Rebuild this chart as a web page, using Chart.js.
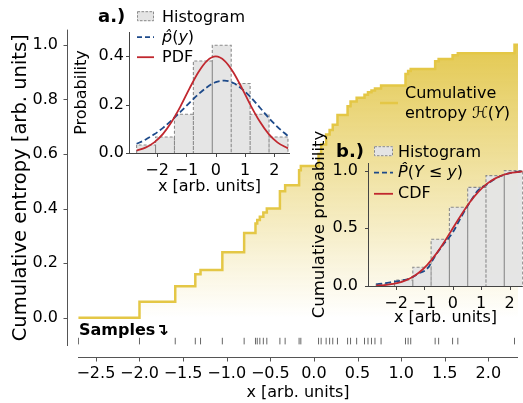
<!DOCTYPE html>
<html><head><meta charset="utf-8">
<script src="https://cdn.jsdelivr.net/npm/chart.js@4.4.1/dist/chart.umd.min.js"></script>
<style>
html,body{margin:0;padding:0;background:#fff;}
#wrap{position:relative;width:523px;height:403px;overflow:hidden;background:#fff;}
canvas{position:absolute;}
#main{left:0;top:0;width:523px;height:403px;}
#insA{left:60px;top:0;width:240px;height:200px;}
#insB{left:290px;top:130px;width:233px;height:200px;}
</style></head><body>
<div id="wrap">
<canvas id="main" width="523" height="403"></canvas>
<canvas id="insA" width="240" height="200"></canvas>
<canvas id="insB" width="233" height="200"></canvas>
</div>
<script>
// ---------------- data ----------------
const samples = [-2.70, -2.00, -1.59, -1.36, -1.30, -1.05, -0.80, -0.67, -0.65, -0.62, -0.58, -0.54,
  -0.39, -0.33, -0.17, -0.15, 0.053, 0.083, 0.14, 0.18, 0.216, 0.27, 0.386, 0.42, 0.49, 0.58,
  0.62, 0.66, 0.70, 0.77, 1.05, 1.08, 1.11, 1.39, 1.43, 1.59, 1.65, 2.30];
const entropy = [0, 0.0585, 0.115, 0.159, 0.175, 0.24, 0.31, 0.345, 0.358, 0.37, 0.385, 0.40,
  0.463, 0.485, 0.54, 0.556, 0.60, 0.635, 0.671, 0.688, 0.707, 0.743, 0.775, 0.792, 0.806, 0.817,
  0.826, 0.833, 0.84, 0.851, 0.893, 0.904, 0.912, 0.94, 0.948, 0.962, 0.969, 1.0];

const histEdges = [-2.70, -2.055, -1.41, -0.765, -0.12, 0.525, 1.17, 1.815, 2.46];
const histDensity = [0.033, 0.066, 0.16, 0.38, 0.445, 0.287, 0.16, 0.066];
const histCumulative = [0.017, 0.052, 0.162, 0.405, 0.682, 0.855, 0.957, 1.0];

const curveX = [-2.7, -2.4, -2.1, -1.8, -1.5, -1.2, -0.9, -0.6, -0.3, 0, 0.3, 0.6, 0.9, 1.2, 1.5, 1.8, 2.1, 2.46];
const pdfTrue = [0.010, 0.022, 0.044, 0.079, 0.130, 0.194, 0.266, 0.333, 0.381, 0.399, 0.381, 0.333, 0.266, 0.194, 0.130, 0.079, 0.044, 0.019];
const pdfEst  = [0.038, 0.055, 0.077, 0.104, 0.136, 0.171, 0.207, 0.242, 0.272, 0.293, 0.299, 0.289, 0.264, 0.229, 0.188, 0.146, 0.108, 0.070];
const cdfTrue = [0.003, 0.008, 0.018, 0.036, 0.067, 0.115, 0.184, 0.274, 0.382, 0.500, 0.618, 0.726, 0.816, 0.885, 0.933, 0.964, 0.982, 0.993];
const cdfEst  = [0.015, 0.024, 0.036, 0.048, 0.068, 0.110, 0.150, 0.270, 0.370, 0.465, 0.600, 0.725, 0.830, 0.880, 0.930, 0.963, 0.983, 0.993];

const X_MIN = -2.705, X_MAX = 2.34, Y_MIN = -0.104, Y_MAX = 1.056;
const RUG_Y = -0.086;

// ---------------- styles ----------------
const GOLD = 'rgb(228,199,70)';
const RED = '#c1282f';
const BLUE = '#1d4a8a';
const SPINE = '#555';
Chart.defaults.font.family = "'DejaVu Sans', sans-serif";
Chart.defaults.font.size = 16;
Chart.defaults.color = '#000';
const MINUS = '\u2212';
function fmt(v, d) { if (Math.abs(v) < 1e-9) v = 0; const s = Math.abs(v).toFixed(d); return v < 0 ? MINUS + s : s; }
function pts(xs, ys) { return xs.map((x, i) => ({x, y: ys[i]})); }
function histOutline(edges, h) {
  const p = [{x: edges[0], y: 0}];
  h.forEach((v, i) => { p.push({x: edges[i], y: v}, {x: edges[i + 1], y: v}, {x: edges[i + 1], y: 0}); });
  return p;
}
function drawRich(ctx, x, y, parts, size, weight) {
  let cx = x;
  parts.forEach(([t, it]) => {
    ctx.font = (it ? 'italic ' : '') + (weight || 'normal') + ' ' + size + "px 'DejaVu Sans'";
    ctx.fillText(t, cx, y);
    cx += ctx.measureText(t).width;
  });
}
function spines(offL, offB, color, tickLen) {
  return { id: 'spines', afterDraw(chart) {
    const {ctx, chartArea: a, scales} = chart;
    const xs = scales.x, ys = scales.y;
    const lx = Math.round(a.left - offL) + 0.5;
    const by = Math.round(a.bottom + offB) + 0.5;
    ctx.save(); ctx.strokeStyle = color; ctx.lineWidth = 1; ctx.setLineDash([]);
    ctx.beginPath();
    ctx.moveTo(lx, a.top); ctx.lineTo(lx, a.bottom + (offB ? 0 : 0.5));
    ctx.moveTo(a.left - (offB ? 0 : 0.5), by); ctx.lineTo(a.right, by);
    ys.ticks.forEach(t => { const p = Math.round(ys.getPixelForValue(t.value)) + 0.5; ctx.moveTo(lx - tickLen, p); ctx.lineTo(lx, p); });
    xs.ticks.forEach(t => { const p = Math.round(xs.getPixelForValue(t.value)) + 0.5; ctx.moveTo(p, by); ctx.lineTo(p, by + tickLen); });
    ctx.stroke(); ctx.restore();
  }};
}
function axisCfg(o) {
  return {
    type: 'linear', min: o.min, max: o.max,
    afterFit: s => { if (o.h !== undefined) s.height = o.h; if (o.w !== undefined) s.width = o.w; },
    grid: {display: false, drawTicks: false}, border: {display: false},
    ticks: {stepSize: o.step, includeBounds: false, padding: o.pad, color: '#000', font: {size: 16},
      autoSkip: false, maxRotation: 0, minRotation: 0, callback: v => fmt(v, o.dec)},
    title: {display: true, text: o.title, color: '#000', font: {size: o.tsize || 16}, padding: o.tpad}
  };
}
function legendPlugin(panel, items, hx1, hx2, tx) {
  return { id: 'insetLegend', afterDraw(chart) {
    const ctx = chart.ctx;
    ctx.save(); ctx.fillStyle = '#000'; ctx.textBaseline = 'alphabetic';
    drawRich(ctx, panel.x, panel.y, [[panel.text, false]], 18, 'bold');
    items.forEach(it => {
      const b = it.base;
      if (it.kind === 'patch') {
        ctx.fillStyle = 'rgb(228,228,228)';
        ctx.fillRect(hx1, b - 10.5, hx2 - hx1, 10);
        ctx.strokeStyle = '#8a8a8a'; ctx.lineWidth = 1; ctx.setLineDash([2.5, 1.5]);
        ctx.strokeRect(hx1 + 0.5, b - 10, hx2 - hx1 - 1, 9);
      } else {
        ctx.strokeStyle = it.color; ctx.lineWidth = 1.8; ctx.setLineDash(it.dash || []);
        ctx.beginPath(); ctx.moveTo(hx1, b - 4.5); ctx.lineTo(hx2, b - 4.5); ctx.stroke();
      }
      ctx.setLineDash([]); ctx.fillStyle = '#000';
      drawRich(ctx, tx, b, it.parts, 16);
    });
    ctx.restore();
  }};
}

// ---------------- main chart ----------------
const entropyPts = pts(samples, entropy);
entropyPts.push({x: X_MAX, y: entropy[entropy.length - 1]});
const rugPts = samples.map(x => ({x, y: RUG_Y}));

const mainLegend = { id: 'mainLegend', afterDraw(chart) {
  const ctx = chart.ctx;
  ctx.save();
  ctx.strokeStyle = GOLD; ctx.lineWidth = 2.5;
  ctx.beginPath(); ctx.moveTo(380, 103); ctx.lineTo(398, 103); ctx.stroke();
  ctx.fillStyle = '#000'; ctx.textBaseline = 'alphabetic';
  drawRich(ctx, 405, 98, [['Cumulative', false]], 16);
  drawRich(ctx, 405, 117.5, [['entropy ', false], ['\u210B', false], ['(', false], ['Y', true], [')', false]], 16);
  drawRich(ctx, 79, 335, [['Samples\u21B4', false]], 16, 'bold');
  ctx.restore();
}};

new Chart(document.getElementById('main'), {
  type: 'line',
  data: { datasets: [
    { label: 'Samples', type: 'scatter', data: rugPts, pointStyle: 'line', rotation: 90, radius: 3.3,
      borderColor: '#666', borderWidth: 1, backgroundColor: '#666', showLine: false, order: 1 },
    { label: 'Cumulative entropy', data: entropyPts, stepped: true, borderColor: GOLD, borderWidth: 2.5,
      pointRadius: 0, fill: 'origin', order: 2,
      backgroundColor: (c) => {
        const ch = c.chart; if (!ch.chartArea) return 'rgba(0,0,0,0)';
        const y = ch.scales.y;
        const g = ch.ctx.createLinearGradient(0, y.getPixelForValue(1), 0, y.getPixelForValue(0));
        g.addColorStop(0, 'rgba(226,198,72,0.95)');
        g.addColorStop(1, 'rgba(226,198,72,0)');
        return g;
      } }
  ]},
  options: {
    responsive: false, animation: false, devicePixelRatio: 1,
    layout: {padding: {top: 23, right: 1, left: 0, bottom: 0}},
    plugins: {legend: {display: false}, tooltip: {enabled: false}},
    scales: {
      x: axisCfg({min: X_MIN, max: X_MAX, step: 0.5, pad: 18, dec: 1, h: 57, title: 'x [arb. units]', tpad: {top: 0, bottom: 0.5}}),
      y: axisCfg({min: Y_MIN, max: Y_MAX, step: 0.2, pad: 20, dec: 1, w: 78, title: 'Cumulative entropy [arb. units]', tsize: 19.5, tpad: {top: 8.8, bottom: 0}})
    }
  },
  plugins: [spines(11, 11, SPINE, 4), mainLegend]
});

// ---------------- inset a ----------------
new Chart(document.getElementById('insA'), {
  type: 'line',
  data: { datasets: [
    { label: 'PDF', data: pts(curveX, pdfTrue), borderColor: RED, borderWidth: 1.8, pointRadius: 0, cubicInterpolationMode: 'monotone', fill: false, order: 1 },
    { label: 'p(y)', data: pts(curveX, pdfEst), borderColor: BLUE, borderWidth: 1.8, borderDash: [6, 3], pointRadius: 0, cubicInterpolationMode: 'monotone', fill: false, order: 2 },
    { label: 'Histogram', data: histOutline(histEdges, histDensity), borderColor: '#8a8a8a', borderWidth: 1.1, borderDash: [3, 2],
      backgroundColor: 'rgba(228,228,228,0.97)', fill: 'origin', pointRadius: 0, tension: 0, order: 3 }
  ]},
  options: {
    responsive: false, animation: false, devicePixelRatio: 1,
    layout: {padding: {top: 32, right: 10, left: 0, bottom: 0}},
    plugins: {legend: {display: false}, tooltip: {enabled: false}},
    scales: {
      x: axisCfg({min: -2.96, max: 2.53, step: 1, pad: 8.4, dec: 0, h: 47, title: 'x [arb. units]', tpad: {top: 0, bottom: 4}}),
      y: axisCfg({min: 0, max: 0.5, step: 0.2, pad: 5, dec: 1, w: 69, title: 'Probability', tpad: {top: 12, bottom: 0}})
    }
  },
  plugins: [spines(0, 0, '#444', 3.5), legendPlugin({x: 38, y: 22, text: 'a.)'}, [
    {kind: 'patch', base: 21.7, parts: [['Histogram', false]]},
    {kind: 'line', base: 41.7, color: BLUE, dash: [5, 3], parts: [['p\u0302', true], ['(', false], ['y', true], [')', false]]},
    {kind: 'line', base: 61.7, color: RED, parts: [['PDF', false]]}
  ], 77, 94, 102)]
});

// ---------------- inset b ----------------
new Chart(document.getElementById('insB'), {
  type: 'line',
  data: { datasets: [
    { label: 'CDF', data: pts(curveX, cdfTrue), borderColor: RED, borderWidth: 1.8, pointRadius: 0, cubicInterpolationMode: 'monotone', fill: false, order: 1 },
    { label: 'P(Y<=y)', data: pts(curveX, cdfEst), borderColor: BLUE, borderWidth: 1.8, borderDash: [6, 3], pointRadius: 0, cubicInterpolationMode: 'monotone', fill: false, order: 2 },
    { label: 'Histogram', data: histOutline(histEdges, histCumulative), borderColor: '#8a8a8a', borderWidth: 1.1, borderDash: [3, 2],
      backgroundColor: 'rgba(228,228,228,0.97)', fill: 'origin', pointRadius: 0, tension: 0, order: 3 }
  ]},
  options: {
    responsive: false, animation: false, devicePixelRatio: 1,
    layout: {padding: {top: 33, right: 0, left: 0, bottom: 0}},
    plugins: {legend: {display: false}, tooltip: {enabled: false}},
    scales: {
      x: axisCfg({min: -2.99, max: 2.47, step: 1, pad: 8.4, dec: 0, h: 44, title: 'x [arb. units]', tpad: {top: 0, bottom: 3}}),
      y: axisCfg({min: 0, max: 1.066, step: 0.5, pad: 10, dec: 1, w: 78, title: 'Cumulative probability', tsize: 16.5, tpad: {top: 20, bottom: 0}})
    }
  },
  plugins: [spines(0, 0, '#444', 3.5), legendPlugin({x: 46, y: 26.5, text: 'b.)'}, [
    {kind: 'patch', base: 26.7, parts: [['Histogram', false]]},
    {kind: 'line', base: 47.2, color: BLUE, dash: [5, 3], parts: [['P\u0302', true], ['(', false], ['Y', true], [' \u2264 ', false], ['y', true], [')', false]]},
    {kind: 'line', base: 68.3, color: RED, parts: [['CDF', false]]}
  ], 84, 103, 108)]
});
</script>
</body></html>
